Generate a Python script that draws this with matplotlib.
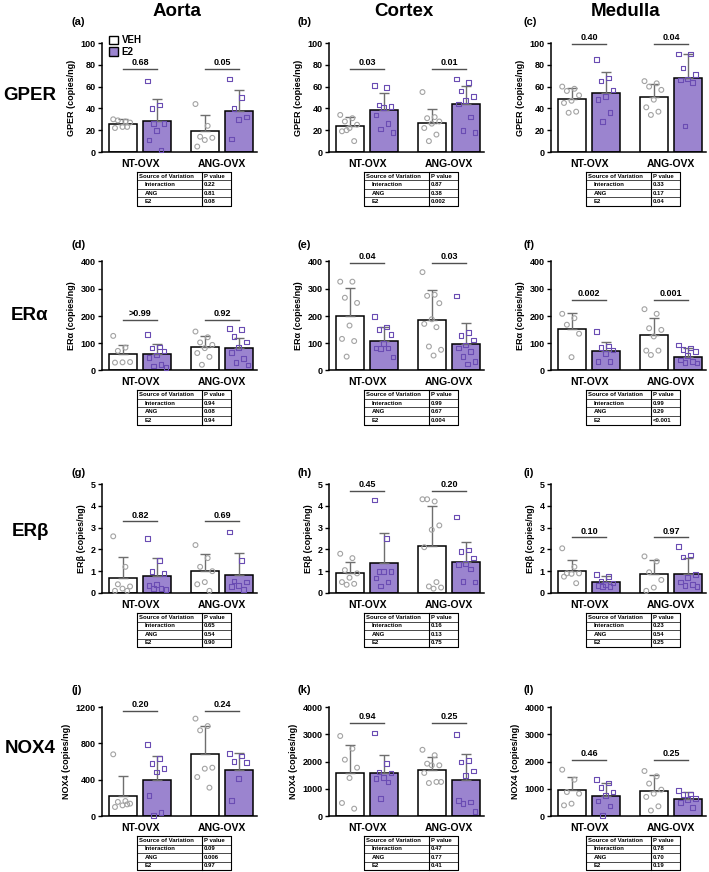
import numpy as np
import matplotlib.pyplot as plt
from matplotlib.patches import Patch
from matplotlib import font_manager as fm

plt.rcParams['font.family'] = ['Liberation Sans', 'DejaVu Sans']

# группы: NT-OVX VEH, NT-OVX E2, ANG-OVX VEH, ANG-OVX E2
groups = ["NT-OVX", "ANG-OVX"]
anova_rows = ["Interaction", "ANG", "E2"]

# GPER
gper_aorta_mean = [25.3, 28.4, 19.2, 37.5]
gper_aorta_sd = [4.6, 20.6, 14.8, 19.2]
gper_aorta_pts = [[30, 28, 29, 27, 23, 22, 23], [65, 43, 40, 26, 20, 11, 2, 26],
                  [44, 24, 14, 13, 11, 5], [67, 50, 40, 32, 30, 12]]
gper_aorta_p = ["0.68", "0.05"]
gper_aorta_anova = ["0.22", "0.81", "0.08"]

gper_cortex_mean = [23.5, 38.7, 26.2, 43.6]
gper_cortex_sd = [8.5, 15.0, 12.8, 17.4]
gper_cortex_pts = [[34, 31, 28, 25, 22, 19, 10, 20], [61, 59, 43, 42, 41, 34, 26, 21, 18],
                   [55, 32, 31, 28, 26, 22, 16, 10], [67, 64, 56, 51, 47, 44, 32, 20, 18]]
gper_cortex_p = ["0.03", "0.01"]
gper_cortex_anova = ["0.87", "0.38", "0.002"]

gper_medulla_mean = [48.2, 54.3, 50.6, 68.3]
gper_medulla_sd = [10.8, 19.2, 11.4, 21.7]
gper_medulla_pts = [[60, 58, 56, 52, 47, 45, 37, 36], [85, 68, 65, 57, 51, 48, 36, 28],
                    [65, 63, 60, 57, 48, 41, 37, 34], [90, 90, 77, 71, 67, 66, 64, 24]]
gper_medulla_p = ["0.40", "0.04"]
gper_medulla_anova = ["0.33", "0.17", "0.04"]

# ERα
era_aorta_mean = [60, 60, 86, 82]
era_aorta_sd = [34, 38, 39, 37]
era_aorta_pts = [[127, 84, 72, 31, 30, 29], [133, 86, 82, 72, 57, 48, 21, 17, 11],
                 [143, 122, 103, 94, 82, 64, 50, 21], [155, 150, 125, 105, 85, 65, 45, 30, 20]]
era_aorta_p = [">0.99", "0.92"]
era_aorta_anova = ["0.94", "0.08", "0.94"]

era_cortex_mean = [199, 110, 187, 97]
era_cortex_sd = [104, 49, 107, 77]
era_cortex_pts = [[326, 326, 267, 248, 165, 116, 108, 51], [198, 160, 150, 131, 100, 82, 82, 80, 50],
                  [361, 278, 274, 247, 188, 171, 159, 88, 76, 55],
                  [273, 140, 128, 112, 94, 82, 70, 51, 33, 24]]
era_cortex_p = ["0.04", "0.03"]
era_cortex_anova = ["0.99", "0.67", "0.004"]

era_medulla_mean = [152, 71, 131, 51]
era_medulla_sd = [58, 35, 63, 31]
era_medulla_pts = [[208, 192, 168, 135, 49], [143, 90, 85, 75, 62, 33, 32],
                   [225, 208, 155, 149, 125, 73, 73, 57], [94, 82, 76, 70, 55, 39, 33, 29, 27]]
era_medulla_p = ["0.002", "0.001"]
era_medulla_anova = ["0.99", "0.29", "<0.001"]

# ERβ
erb_aorta_mean = [0.69, 0.76, 1.02, 0.84]
erb_aorta_sd = [0.94, 0.84, 0.78, 0.99]
erb_aorta_pts = [[2.6, 1.2, 0.4, 0.3, 0.2, 0.1, 0.1], [2.5, 1.5, 1.0, 0.9, 0.4, 0.35, 0.2, 0.2, 0.15],
                 [2.2, 1.6, 1.2, 1.0, 0.5, 0.4, 0.1], [2.8, 1.5, 0.55, 0.5, 0.35, 0.3, 0.15]]
erb_aorta_p = ["0.82", "0.69"]
erb_aorta_anova = ["0.65", "0.54", "0.90"]

erb_cortex_mean = [0.91, 1.39, 2.17, 1.41]
erb_cortex_sd = [0.53, 1.34, 1.80, 0.94]
erb_cortex_pts = [[1.8, 1.6, 1.05, 0.9, 0.7, 0.5, 0.42, 0.38], [4.27, 2.5, 1.0, 1.0, 0.98, 0.68, 0.5, 0.33],
                  [4.3, 4.2, 4.3, 3.1, 2.9, 2.1, 0.5, 0.3, 0.25, 0.2],
                  [3.48, 1.98, 1.9, 1.6, 1.35, 1.3, 1.1, 0.53, 0.5]]
erb_cortex_p = ["0.45", "0.20"]
erb_cortex_anova = ["0.16", "0.13", "0.75"]

erb_medulla_mean = [0.99, 0.49, 0.88, 0.88]
erb_medulla_sd = [0.53, 0.27, 0.64, 0.74]
erb_medulla_pts = [[2.05, 1.2, 0.9, 0.9, 0.88, 0.75, 0.45], [0.85, 0.75, 0.55, 0.45, 0.4, 0.35, 0.3, 0.3],
                   [1.68, 1.45, 0.95, 0.6, 0.25, 0.1], [2.13, 1.74, 1.65, 0.85, 0.7, 0.5, 0.4, 0.35, 0.3]]
erb_medulla_p = ["0.10", "0.97"]
erb_medulla_anova = ["0.23", "0.54", "0.25"]

# NOX4
nox4_aorta_mean = [216, 393, 679, 503]
nox4_aorta_sd = [224, 264, 312, 194]
nox4_aorta_pts = [[679, 165, 155, 136, 117, 99, 128], [789, 631, 576, 521, 484, 228, 37, 7],
                  [1072, 990, 943, 532, 521, 429, 312], [690, 660, 600, 590, 410, 170]]
nox4_aorta_p = ["0.20", "0.24"]
nox4_aorta_anova = ["0.09", "0.006", "0.97"]

nox4_cortex_mean = [1590, 1578, 1700, 1309]
nox4_cortex_sd = [1003, 648, 465, 954]
nox4_cortex_pts = [[2936, 2471, 2067, 1774, 1394, 477, 269], [3046, 1920, 1615, 1578, 1407, 1370, 1248, 636],
                   [2430, 2230, 1920, 1860, 1860, 1580, 1250, 1210, 1250],
                   [2985, 2040, 1980, 1650, 1490, 575, 515, 450, 160]]
nox4_cortex_p = ["0.94", "0.25"]
nox4_cortex_anova = ["0.47", "0.77", "0.41"]

nox4_medulla_mean = [942, 734, 917, 624]
nox4_medulla_sd = [489, 489, 575, 257]
nox4_medulla_pts = [[1700, 1333, 880, 820, 453, 391], [1333, 1211, 1040, 881, 758, 550, 367, 24],
                    [1651, 1456, 1190, 966, 820, 700, 355, 200], [942, 810, 780, 640, 600, 500, 306]]
nox4_medulla_p = ["0.46", "0.25"]
nox4_medulla_anova = ["0.78", "0.70", "0.19"]

# раскладка: (метка, данные, ymax, шаг тиков, высота линии p)
rows = [
    ("GPER", [("(a)", gper_aorta_mean, gper_aorta_sd, gper_aorta_pts, gper_aorta_p, gper_aorta_anova, 100, 20, 76),
              ("(b)", gper_cortex_mean, gper_cortex_sd, gper_cortex_pts, gper_cortex_p, gper_cortex_anova, 100, 20, 76),
              ("(c)", gper_medulla_mean, gper_medulla_sd, gper_medulla_pts, gper_medulla_p, gper_medulla_anova, 100, 20, 99)]),
    ("ERα", [("(d)", era_aorta_mean, era_aorta_sd, era_aorta_pts, era_aorta_p, era_aorta_anova, 400, 100, 186),
             ("(e)", era_cortex_mean, era_cortex_sd, era_cortex_pts, era_cortex_p, era_cortex_anova, 400, 100, 395),
             ("(f)", era_medulla_mean, era_medulla_sd, era_medulla_pts, era_medulla_p, era_medulla_anova, 400, 100, 259)]),
    ("ERβ", [("(g)", erb_aorta_mean, erb_aorta_sd, erb_aorta_pts, erb_aorta_p, erb_aorta_anova, 5, 1, 3.28),
             ("(h)", erb_cortex_mean, erb_cortex_sd, erb_cortex_pts, erb_cortex_p, erb_cortex_anova, 5, 1, 4.7),
             ("(i)", erb_medulla_mean, erb_medulla_sd, erb_medulla_pts, erb_medulla_p, erb_medulla_anova, 5, 1, 2.55)]),
    ("NOX4", [("(j)", nox4_aorta_mean, nox4_aorta_sd, nox4_aorta_pts, nox4_aorta_p, nox4_aorta_anova, 1200, 400, 1156),
              ("(k)", nox4_cortex_mean, nox4_cortex_sd, nox4_cortex_pts, nox4_cortex_p, nox4_cortex_anova, 4000, 1000, 3425),
              ("(l)", nox4_medulla_mean, nox4_medulla_sd, nox4_medulla_pts, nox4_medulla_p, nox4_medulla_anova, 4000, 1000, 2067)]),
]
columns = ["Aorta", "Cortex", "Medulla"]

W, H = 709, 872
col_left = [102, 329, 551]
tag_dx = [-30, -31, -28]
row_top = [43, 261.5, 484, 707]
tag_dy = [21, 17, 11, 17]
row_label_y = [95, 316, 531, 748]
ax_w, ax_h = 155, 109

purple = '#9b84cf'
sq_edge = '#6a4cb3'
circ_edge = '#a3a3a3'
err_col = '#6e6e6e'

# шрифт для таблиц
font_names = {f.name for f in fm.fontManager.ttflist}
if 'Liberation Sans Narrow' in font_names:
    tab_font, tab_size = 'Liberation Sans Narrow', 5.0
else:
    tab_font, tab_size = 'Liberation Sans', 4.3

xpos = np.array([0, 1, 2.42, 3.42])
bar_w = 0.82

fig = plt.figure(figsize=(W / 100, H / 100), dpi=100)

for c, name in enumerate(columns):
    fig.text((col_left[c] + 75) / W, 1 - 11 / H, name, ha='center', va='center',
             fontsize=13.5, fontweight='bold')

for r, (gene, panels) in enumerate(rows):
    fig.text(30 / W, 1 - row_label_y[r] / H, gene, ha='center', va='center',
             fontsize=13.5, fontweight='bold')
    for c, (tag, mean, sd, pts, pvals, anova, ymax, step, sig_y) in enumerate(panels):
        L, T = col_left[c], row_top[r]
        ax = fig.add_axes([L / W, 1 - (T + ax_h) / H, ax_w / W, ax_h / H])
        for i in range(4):
            e2 = i % 2 == 1
            ax.bar(xpos[i], mean[i], width=bar_w, color=purple if e2 else 'white',
                   edgecolor='black', linewidth=1.1, zorder=1)
            ax.errorbar(xpos[i], mean[i], yerr=[[0], [sd[i]]], color=err_col,
                        elinewidth=1.0, capsize=3.5, capthick=1.0, zorder=2)
            n = len(pts[i])
            offs = np.array([((k * 0.618) % 1 - 0.5) * 0.58 for k in range(n)])
            if e2:
                ax.scatter(xpos[i] + offs, pts[i], marker='s', s=11, facecolors='none',
                           edgecolors=sq_edge, linewidths=0.8, zorder=3, clip_on=False)
            else:
                ax.scatter(xpos[i] + offs, pts[i], marker='o', s=12, facecolors='none',
                           edgecolors=circ_edge, linewidths=0.8, zorder=3, clip_on=False)
        # p-значения между VEH и E2
        for g in range(2):
            x0, x1 = xpos[2 * g], xpos[2 * g + 1]
            ax.plot([x0, x1], [sig_y, sig_y], color='#505050', lw=1.0, clip_on=False)
            ax.annotate(pvals[g], ((x0 + x1) / 2, sig_y), xytext=(0, 1.2), textcoords='offset points',
                        ha='center', va='bottom', fontsize=6.5, fontweight='bold', annotation_clip=False)
        ax.set_xlim(-0.62, 3.94)
        ax.set_ylim(0, ymax)
        ax.set_yticks(np.arange(0, ymax + step / 2, step))
        ax.set_xticks([0.5, 2.92])
        ax.set_xticklabels(groups, fontsize=7.5, fontweight='bold')
        ax.tick_params(axis='x', length=0, pad=5)
        ax.tick_params(axis='y', length=3, width=1.0, labelsize=6.5, pad=1.5)
        for lab in ax.get_yticklabels():
            lab.set_fontweight('bold')
        for s in ['top', 'right']:
            ax.spines[s].set_visible(False)
        for s in ['left', 'bottom']:
            ax.spines[s].set_linewidth(1.1)
        ax.set_ylabel(gene + " (copies/ng)", fontsize=6.5, fontweight='bold', labelpad=3)
        fig.text((L + tag_dx[c]) / W, 1 - (T - tag_dy[r]) / H, tag, ha='left', va='center',
                 fontsize=8, fontweight='bold')
        if r == 0 and c == 0:
            handles = [Patch(facecolor='white', edgecolor='black', linewidth=1.0),
                       Patch(facecolor=purple, edgecolor='black', linewidth=1.0)]
            ax.legend(handles, ["VEH", "E2"], loc='upper left', bbox_to_anchor=(0.045, 1.07),
                      frameon=False, prop={'weight': 'bold', 'size': 7},
                      handlelength=0.9, handleheight=0.9, labelspacing=0.15,
                      handletextpad=0.4, borderpad=0, borderaxespad=0)

        # таблица ANOVA
        tl, tt, tw, th = L + 35, T + ax_h + 20, 94, 34
        tax = fig.add_axes([tl / W, 1 - (tt + th) / H, tw / W, th / H])
        tax.set_xlim(0, tw)
        tax.set_ylim(th, 0)
        tax.axis('off')
        rh = th / 4
        tax.plot([0, tw, tw, 0, 0], [0, 0, th, th, 0], color='black', lw=0.8, clip_on=False)
        for k in range(1, 4):
            tax.plot([0, tw], [k * rh, k * rh], color='black', lw=0.5, clip_on=False)
        tax.plot([65, 65], [0, th], color='black', lw=0.8, clip_on=False)
        cells = [("Source of Variation", "P value")] + list(zip(anova_rows, anova))
        for k, (a, b) in enumerate(cells):
            yk = (k + 0.5) * rh
            tax.text(2 if k == 0 else 8, yk, a, ha='left', va='center', fontsize=tab_size,
                     fontweight='bold', family=tab_font)
            tax.text(67, yk, b, ha='left', va='center', fontsize=tab_size,
                     fontweight='bold', family=tab_font)

fig.savefig("out.png", dpi=100)
